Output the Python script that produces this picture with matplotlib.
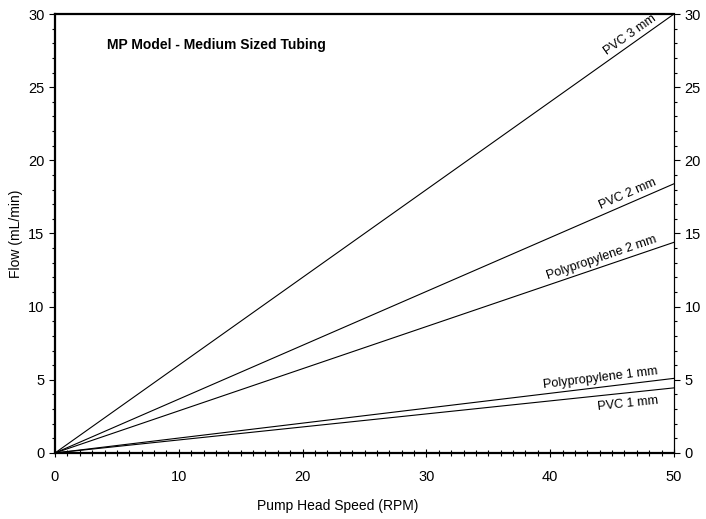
import numpy as np
import matplotlib
matplotlib.use("Agg")
import matplotlib.pyplot as plt
from matplotlib.ticker import MultipleLocator

plt.rcParams["font.family"] = ["Liberation Sans", "DejaVu Sans"]

# flow at 50 RPM for each tubing (mL/min), lines run from origin
speed = [0, 50]
tubing = ["PVC 3 mm", "PVC 2 mm", "Polypropylene 2 mm", "Polypropylene 1 mm", "PVC 1 mm"]
flow_at_50 = [30.0, 18.4, 14.4, 5.1, 4.45]
label_below = [False, False, False, False, True]

fig = plt.figure(figsize=(7.06, 5.19), dpi=100)
ax = fig.add_axes([0.0779, 0.1272, 0.8768, 0.8458])

for name, f50, below in zip(tubing, flow_at_50, label_below):
    flows = [0, f50]
    ax.plot(speed, flows, color="black", lw=0.8)
    slope = f50 / 50
    xt = 48.7
    yt = slope * xt + (-0.35 if below else 0.2)
    ax.text(xt, yt, name, ha="right", va="top" if below else "bottom",
            rotation=np.degrees(np.arctan(slope)), rotation_mode="anchor",
            transform_rotates_text=True, fontsize=9.1)

ax.set_xlim(0, 50)
ax.set_ylim(0, 30)
ax.xaxis.set_major_locator(MultipleLocator(10))
ax.xaxis.set_minor_locator(MultipleLocator(1))
ax.yaxis.set_major_locator(MultipleLocator(5))
ax.yaxis.set_minor_locator(MultipleLocator(1))

for side in ["left", "bottom", "top"]:
    ax.spines[side].set_linewidth(1.6)
ax.spines["right"].set_linewidth(0.8)

ax.tick_params(axis="x", which="major", direction="inout", length=6, width=0.8, labelsize=10.5, pad=9)
ax.tick_params(axis="x", which="minor", direction="inout", length=4, width=0.8)
ax.tick_params(axis="y", which="major", direction="out", length=4, width=0.8, labelsize=10.5)
ax.tick_params(axis="y", which="minor", direction="out", length=2, width=0.8)

ax2 = ax.twinx()
ax2.set_ylim(0, 30)
ax2.yaxis.set_major_locator(MultipleLocator(5))
ax2.yaxis.set_minor_locator(MultipleLocator(1))
ax2.tick_params(axis="y", which="major", direction="out", length=4, width=0.8, labelsize=10.5)
ax2.tick_params(axis="y", which="minor", direction="out", length=2, width=0.8)
for side in ["left", "bottom", "top"]:
    ax2.spines[side].set_visible(False)
ax2.spines["right"].set_linewidth(0.8)

ax.set_xlabel("Pump Head Speed (RPM)", fontsize=10)
ax.xaxis.set_label_coords(0.456, -0.105)
ax.set_ylabel("Flow (mL/min)", fontsize=10)
ax.yaxis.set_label_coords(-0.052, 0.5)

ax.text(0.084, 0.93, "MP Model - Medium Sized Tubing", transform=ax.transAxes,
        fontsize=10, fontweight="bold", va="center")

fig.savefig("out.png", dpi=100)
